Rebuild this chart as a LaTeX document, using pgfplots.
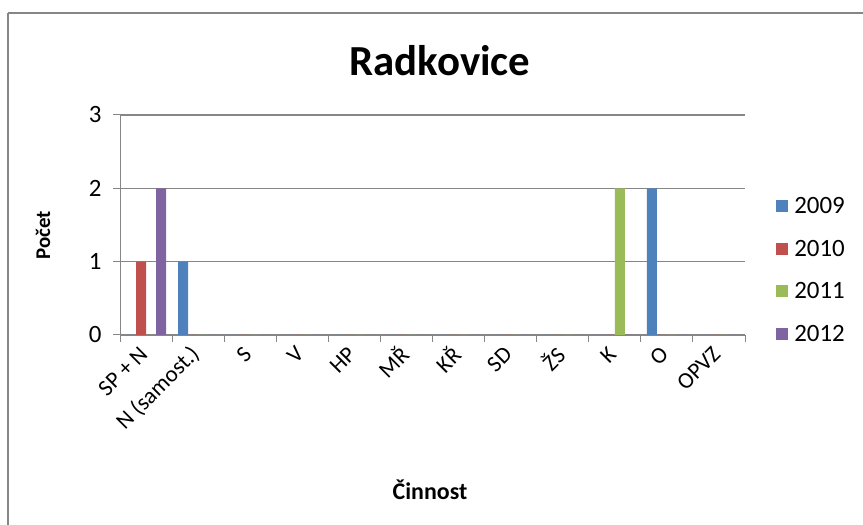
\documentclass[border=0pt]{standalone}
\usepackage{pgfplots}
\pgfplotsset{compat=1.18}
\usepackage{fontspec}
\setmainfont{Carlito}
\definecolor{c09}{HTML}{4F81BD}
\definecolor{c10}{HTML}{C0504D}
\definecolor{c11}{HTML}{9BBB59}
\definecolor{c12}{HTML}{8064A2}
\definecolor{gridc}{HTML}{868686}
\pgfplotsset{sqlegend/.style={legend image code/.code={\fill[##1] (0bp,-6bp) rectangle (12bp,6bp);}}}
\begin{document}
\begin{tikzpicture}[x=1bp,y=1bp]
\path[use as bounding box] (0,0) rectangle (863,525);
\draw[line width=2.5bp, color=gridc] (8,512) -- (863,512);
\draw[line width=1.5bp, color=gridc] (8,512) -- (8,0);
\node[anchor=base, font=\fontsize{43}{46}\selectfont\bfseries] at (440,449) {Radkovice};
\node[anchor=base, rotate=90, font=\fontsize{21}{24}\selectfont\bfseries] at (50,290) {Počet};
\node[anchor=base, font=\fontsize{24}{28}\selectfont\bfseries] at (430,25) {Činnost};
\begin{axis}[
  at={(120bp,190bp)}, anchor=south west,
  scale only axis, width=625bp, height=220bp,
  xmin=-0.5, xmax=11.5, ymin=0, ymax=3,
  ytick={0,1,2,3},
  xtick={0,...,11},
  xticklabels={SP + N, N (samost.), S, V, HP, MŘ, KŘ, SD, ŽS, K, O, OPVZ},
  minor xtick={-0.5,0.5,...,11.5},
  minor tick length=7bp,
  minor x tick style={gridc, line width=1bp},
  major x tick style={draw=none},
  major tick length=7bp,
  tick align=outside,
  tick style={gridc, line width=1bp},
  axis x line*=bottom, axis y line*=left,
  axis line style={gridc, line width=1bp},
  ymajorgrids, grid style={gridc, line width=1.2bp},
  /pgf/number format/assume math mode=true,
  yticklabel style={font=\fontsize{25}{28}\selectfont, xshift=-8bp},
  xticklabel style={font=\fontsize{23}{26}\selectfont, yshift=-6bp, anchor=east, rotate=45},
  ybar=0pt, bar width=10bp,
  every axis plot/.append style={sqlegend},
  legend style={at={(1.045,0.645)}, anchor=north west, draw=none, fill=none,
    font=\fontsize{25}{28}\selectfont, row sep=21bp, column sep=4bp, legend cell align=left},
]
\addplot[fill=c09, draw=none]
  coordinates {(0,0) (1,1) (2,0) (3,0) (4,0) (5,0) (6,0) (7,0) (8,0) (9,0) (10,2) (11,0)};
\addplot[fill=c10, draw=none]
  coordinates {(0,1) (1,0) (2,0) (3,0) (4,0) (5,0) (6,0) (7,0) (8,0) (9,0) (10,0) (11,0)};
\addplot[fill=c11, draw=none]
  coordinates {(0,0) (1,0) (2,0) (3,0) (4,0) (5,0) (6,0) (7,0) (8,0) (9,2) (10,0) (11,0)};
\addplot[fill=c12, draw=none]
  coordinates {(0,2) (1,0) (2,0) (3,0) (4,0) (5,0) (6,0) (7,0) (8,0) (9,0) (10,0) (11,0)};
\legend{2009,2010,2011,2012}
\end{axis}
\end{tikzpicture}
\end{document}
